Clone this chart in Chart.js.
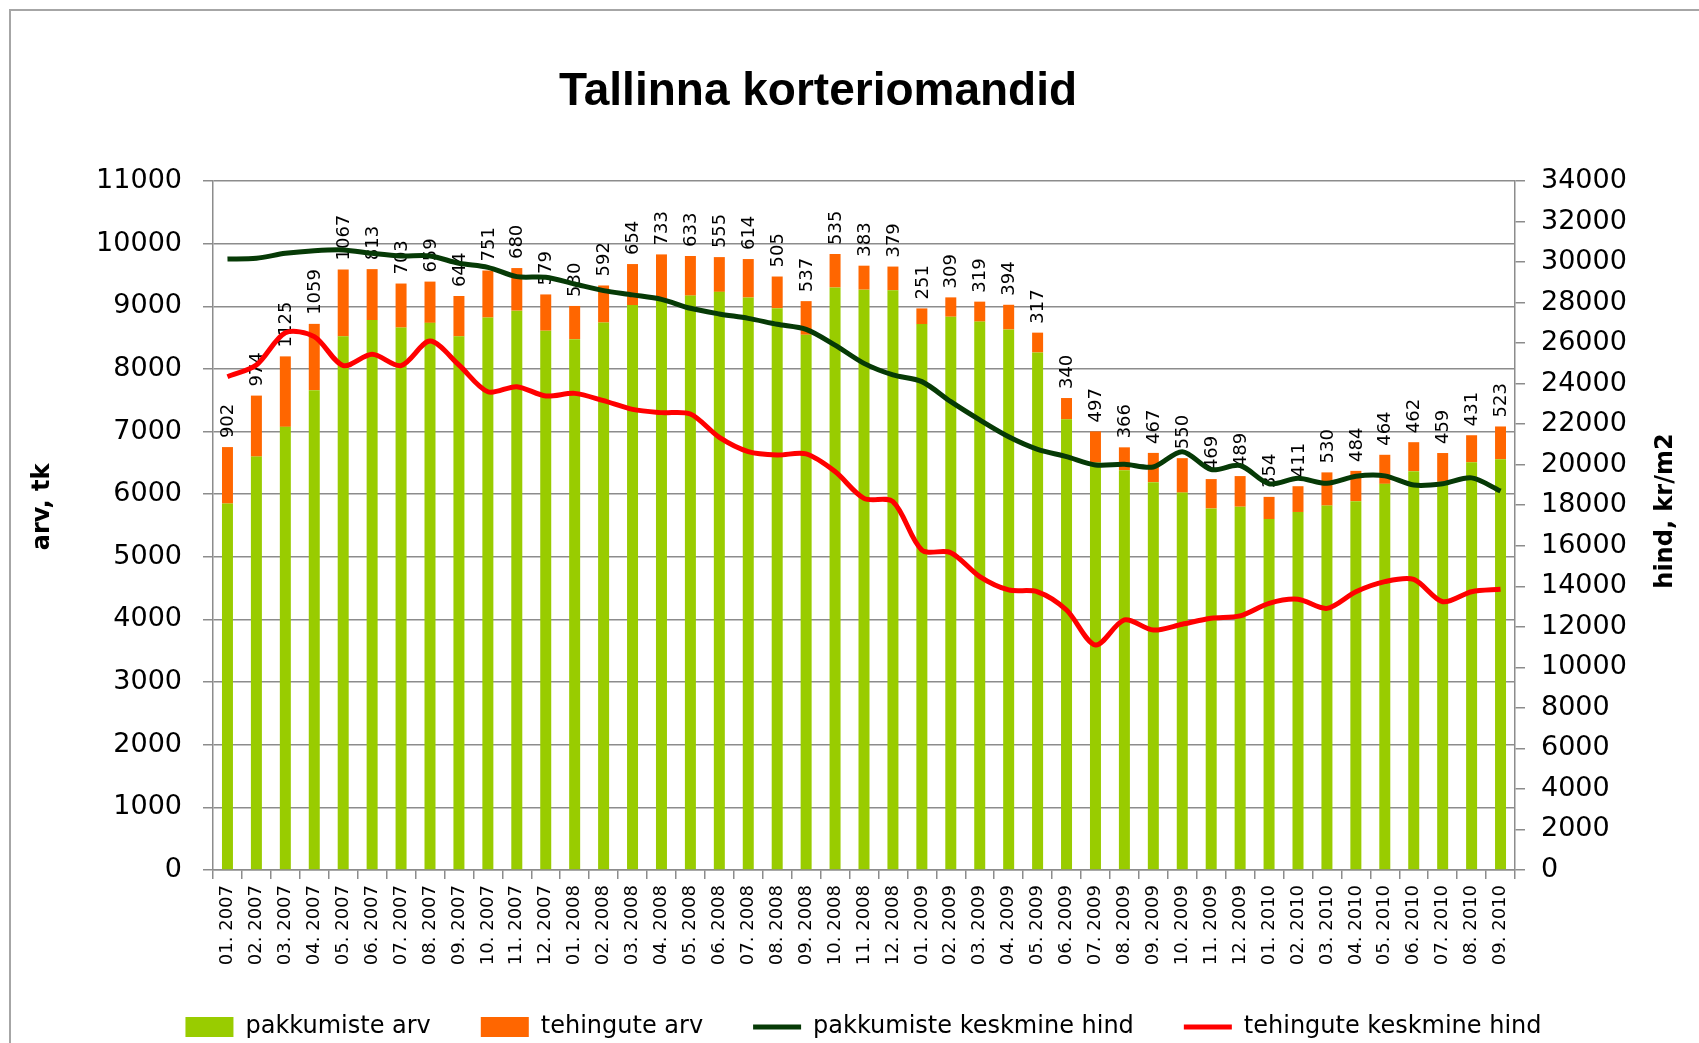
<!DOCTYPE html>
<html>
<head>
<meta charset="utf-8">
<title>Tallinna korteriomandid</title>
<script src="https://cdn.jsdelivr.net/npm/chart.js@4.4.1/dist/chart.umd.min.js"></script>
<style>
  html, body { margin: 0; padding: 0; background: #fff; overflow: hidden; }
  #wrap { position: relative; width: 1699px; height: 1043px; }
</style>
</head>
<body>
<div id="wrap"><canvas id="chart" width="1699" height="1043"></canvas></div>
<script>
// months on the x axis
var months = [
  '01. 2007', '02. 2007', '03. 2007', '04. 2007', '05. 2007', '06. 2007',
  '07. 2007', '08. 2007', '09. 2007', '10. 2007', '11. 2007', '12. 2007',
  '01. 2008', '02. 2008', '03. 2008', '04. 2008', '05. 2008', '06. 2008',
  '07. 2008', '08. 2008', '09. 2008', '10. 2008', '11. 2008', '12. 2008',
  '01. 2009', '02. 2009', '03. 2009', '04. 2009', '05. 2009', '06. 2009',
  '07. 2009', '08. 2009', '09. 2009', '10. 2009', '11. 2009', '12. 2009',
  '01. 2010', '02. 2010', '03. 2010', '04. 2010', '05. 2010', '06. 2010',
  '07. 2010', '08. 2010', '09. 2010'
];

// offers (green bars, left axis)
var pakkumisteArv = [
  5850, 6600, 7075, 7660, 8520, 8780, 8660, 8735, 8520, 8820, 8930, 8610,
  8475, 8740, 9020, 9095, 9170, 9230, 9140, 8970, 8545, 9300, 9265, 9255,
  8715, 8833, 8755, 8630, 8262, 7195, 6505, 6382, 6192, 6025, 5772, 5800,
  5603, 5716, 5818, 5888, 6165, 6368, 6198, 6510, 6558
];

// deals (orange bars stacked on top, left axis)
var tehinguteArv = [
  902, 974, 1125, 1059, 1067, 813, 703, 659, 644, 751, 680, 579,
  530, 592, 654, 733, 633, 555, 614, 505, 537, 535, 383, 379,
  251, 309, 319, 394, 317, 340, 497, 366, 467, 550, 469, 489,
  354, 411, 530, 484, 464, 462, 459, 431, 523
];

// average offer price kr/m2 (dark green line, right axis)
var pakkumisteHind = [
  30150, 30190, 30430, 30560, 30600, 30430, 30300, 30300, 29940, 29740, 29280, 29250,
  28920, 28590, 28380, 28160, 27720, 27440, 27220, 26930, 26680, 25900, 25000, 24430,
  24100, 23110, 22210, 21380, 20760, 20400, 19990, 20020, 19890, 20645, 19760, 19960,
  19060, 19330, 19080, 19430, 19450, 19000, 19060, 19350, 18700
];

// average deal price kr/m2 (red line, right axis)
var tehinguteHind = [
  24340, 24920, 26510, 26320, 24890, 25450, 24890, 26100, 24920, 23600, 23850, 23390,
  23520, 23160, 22730, 22570, 22500, 21350, 20650, 20480, 20530, 19660, 18340, 18180,
  15790, 15660, 14480, 13820, 13730, 12830, 11100, 12340, 11840, 12130, 12420, 12540,
  13160, 13360, 12910, 13730, 14230, 14340, 13240, 13730, 13850
];

var gridGray = '#8c8c8c';

// frame, value labels over the orange bars, title and axis titles
var decorPlugin = {
    id: 'decor',
    beforeDraw: function(chart) {
        var ctx = chart.ctx;
        ctx.save();
        ctx.strokeStyle = '#a6a6a6';
        ctx.lineWidth = 2;
        ctx.beginPath();
        ctx.moveTo(10, chart.height + 5);
        ctx.lineTo(10, 10);
        ctx.lineTo(chart.width + 5, 10);
        ctx.stroke();
        ctx.restore();
    },
    afterDatasetDraw: function(chart, args) {
        if (args.index !== 1) return;
        var ctx = chart.ctx;
        ctx.save();
        ctx.font = '18px "DejaVu Sans"';
        ctx.fillStyle = '#000';
        ctx.textAlign = 'left';
        ctx.textBaseline = 'middle';
        args.meta.data.forEach(function(bar, i) {
            ctx.save();
            ctx.translate(bar.x + 1, bar.y - 9);
            ctx.rotate(-Math.PI / 2);
            ctx.fillText(String(tehinguteArv[i]), 0, 0);
            ctx.restore();
        });
        ctx.restore();
    },
    afterDraw: function(chart) {
        var ctx = chart.ctx;
        var area = chart.chartArea;
        ctx.save();
        ctx.fillStyle = '#000';
        ctx.textAlign = 'center';
        ctx.textBaseline = 'middle';

        ctx.font = 'bold 46px "Liberation Sans"';
        ctx.fillText('Tallinna korteriomandid', chart.width * 0.4815, 92);

        ctx.font = 'bold 24px "DejaVu Sans"';

        ctx.save();
        ctx.translate(43, area.top + (area.bottom - area.top) * 0.473);
        ctx.rotate(-Math.PI / 2);
        ctx.fillText('arv, tk', 0, 0);
        ctx.restore();

        ctx.save();
        ctx.translate(1666, area.top + (area.bottom - area.top) * 0.479);
        ctx.rotate(-Math.PI / 2);
        ctx.fillText('hind, kr/m2', 0, 0);
        ctx.restore();

        ctx.restore();
    }
};

var ctx = document.getElementById('chart');

new Chart(ctx, {
    type: 'bar',
    data: {
        labels: months,
        datasets: [
            {
                label: 'pakkumiste arv',
                data: pakkumisteArv,
                backgroundColor: '#99CC00',
                borderWidth: 0,
                yAxisID: 'y',
                order: 2,
                pointStyle: 'rect',
                barPercentage: 0.38,
                categoryPercentage: 1
            },
            {
                label: 'tehingute arv',
                data: tehinguteArv,
                backgroundColor: '#FF6600',
                borderWidth: 0,
                yAxisID: 'y',
                order: 2,
                pointStyle: 'rect',
                barPercentage: 0.38,
                categoryPercentage: 1
            },
            {
                type: 'line',
                label: 'pakkumiste keskmine hind',
                data: pakkumisteHind,
                borderColor: '#063a06',
                backgroundColor: '#063a06',
                borderWidth: 5,
                pointRadius: 0,
                tension: 0.3,
                yAxisID: 'y1',
                order: 1,
                pointStyle: 'line'
            },
            {
                type: 'line',
                label: 'tehingute keskmine hind',
                data: tehinguteHind,
                borderColor: '#FF0000',
                backgroundColor: '#FF0000',
                borderWidth: 5,
                pointRadius: 0,
                tension: 0.3,
                yAxisID: 'y1',
                order: 1,
                pointStyle: 'line'
            }
        ]
    },
    options: {
        responsive: false,
        animation: false,
        devicePixelRatio: 1,
        layout: {
            padding: { top: 181, left: 28, right: 0, bottom: 0 }
        },
        plugins: {
            title: { display: false },
            tooltip: { enabled: false },
            legend: {
                display: true,
                position: 'bottom',
                maxHeight: 78,
                labels: {
                    usePointStyle: true,
                    pointStyleWidth: 48,
                    boxHeight: 20,
                    padding: 50,
                    color: '#000',
                    font: { family: 'DejaVu Sans', size: 24 },
                    sort: function(a, b) { return a.datasetIndex - b.datasetIndex; }
                }
            }
        },
        scales: {
            x: {
                stacked: true,
                grid: {
                    display: true,
                    drawOnChartArea: false,
                    drawTicks: true,
                    tickLength: 9,
                    color: gridGray,
                    lineWidth: 1.5,
                    offset: true
                },
                border: { display: true, color: gridGray, width: 1.5 },
                ticks: {
                    autoSkip: false,
                    maxRotation: 90,
                    minRotation: 90,
                    padding: 6,
                    color: '#000',
                    font: { family: 'DejaVu Sans', size: 18 }
                },
                afterFit: function(scale) { scale.height = 95; }
            },
            y: {
                stacked: true,
                position: 'left',
                min: 0,
                max: 11000,
                ticks: {
                    stepSize: 1000,
                    padding: 21,
                    color: '#000',
                    font: { family: 'DejaVu Sans', size: 27 },
                    callback: function(v) { return String(v); }
                },
                grid: { color: gridGray, lineWidth: 1.5, tickLength: 10 },
                border: { display: true, color: gridGray, width: 1.5 },
                afterFit: function(scale) { scale.width = 185; }
            },
            y1: {
                position: 'right',
                min: 0,
                max: 34000,
                ticks: {
                    stepSize: 2000,
                    padding: 16,
                    color: '#000',
                    font: { family: 'DejaVu Sans', size: 27 },
                    callback: function(v) { return String(v); }
                },
                grid: { drawOnChartArea: false, color: gridGray, lineWidth: 1.5, tickLength: 10 },
                border: { display: true, color: gridGray, width: 1.5 },
                afterFit: function(scale) { scale.width = 184; }
            }
        }
    },
    plugins: [decorPlugin]
});
</script>
</body>
</html>
